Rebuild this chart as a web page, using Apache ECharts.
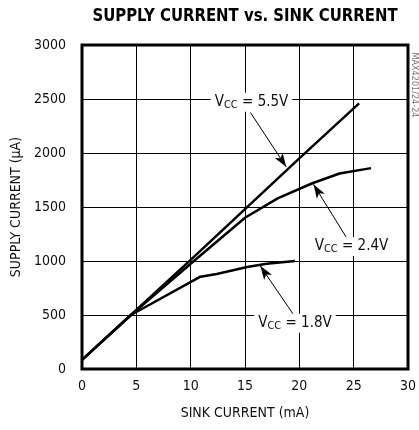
<!DOCTYPE html>
<html lang="en">
<head>
    <meta charset="UTF-8">
    <title>Supply current vs. sink current</title>
    <script src="https://cdn.jsdelivr.net/npm/echarts@6/dist/echarts.min.js"></script>
</head>
<body style="margin:0">

<div id="main" style="width:419px;height:430px;"></div>

<script type="text/javascript">
    // sink current (mA), supply current (uA)
    var vcc55 = [[0, 85], [4.5, 500], [10, 1010], [15, 1480], [20, 1950], [25.5, 2460]];
    var vcc24 = [[0, 85], [4.5, 500], [10, 975], [15, 1400], [18, 1580], [21.2, 1720], [23.7, 1810], [26.6, 1860]];
    var vcc18 = [[0, 85], [4.5, 500], [10.9, 855], [12.4, 880], [15.2, 944], [17, 975], [19.6, 1000]];

    var seriesNames = ['5.5V', '2.4V', '1.8V'];
    // label centres and arrow [from, to] in data units
    var labelAt = [[15.6, 2470], [24.8, 1135], [19.6, 424]];
    var arrows = [
        [[15.5, 2375], [18.8, 1870]],
        [[24.35, 1215], [21.3, 1710]],
        [[19.45, 505], [16.4, 955]]
    ];

    var font = '"Liberation Sans Narrow", "DejaVu Sans Condensed", sans-serif';
    var myChart = echarts.init(document.getElementById('main'));

    function makeSeries(data, i) {
        return {
            name: seriesNames[i],
            type: 'line',
            data: data,
            symbol: 'none',
            silent: true,
            lineStyle: {color: '#000', width: 2.5},
            markLine: {
                silent: true,
                symbol: ['none', 'arrow'],
                symbolSize: [7, 14],
                lineStyle: {color: '#000', width: 1, type: 'solid'},
                label: {show: false},
                data: [[{coord: arrows[i][0]}, {coord: arrows[i][1]}]]
            },
            markPoint: {
                silent: true,
                symbol: 'rect',
                symbolSize: 1,
                itemStyle: {color: 'rgba(0,0,0,0)'},
                label: {
                    show: true,
                    position: 'inside',
                    backgroundColor: '#fff',
                    padding: [1, 4, 1, 4],
                    formatter: '{v|V}{s|CC}{v| = ' + seriesNames[i] + '}',
                    rich: {
                        v: {fontFamily: font, fontSize: 15, color: '#111'},
                        s: {fontFamily: font, fontSize: 11, color: '#111', padding: [6, 0, 0, 0]}
                    }
                },
                data: [{coord: labelAt[i]}]
            }
        };
    }

    var option = {
        animation: false,
        grid: {
            left: 82, right: 11, top: 45, bottom: 61,
            outerBoundsMode: 'none',
            containLabel: false,
            show: true, borderColor: '#000', borderWidth: 3
        },
        xAxis: {
            type: 'value',
            min: 0, max: 30, interval: 5,
            name: 'SINK CURRENT (mA)',
            nameLocation: 'middle',
            nameGap: 37,
            nameTextStyle: {fontFamily: font, fontSize: 14, color: '#111'},
            axisLine: {show: false},
            axisTick: {show: false},
            axisLabel: {fontFamily: font, fontSize: 14, color: '#111', margin: 10},
            splitLine: {lineStyle: {color: '#000', width: 1}}
        },
        yAxis: {
            type: 'value',
            min: 0, max: 3000, interval: 500,
            name: 'SUPPLY CURRENT (\u00b5A)',
            nameLocation: 'middle',
            nameGap: 57,
            nameTextStyle: {fontFamily: font, fontSize: 14, color: '#111'},
            axisLine: {show: false},
            axisTick: {show: false},
            axisLabel: {
                fontFamily: font, fontSize: 14, color: '#111', margin: 16,
                formatter: function (v) { return String(v); }
            },
            splitLine: {lineStyle: {color: '#000', width: 1}}
        },
        graphic: [{
            type: 'text',
            x: 245, y: 16,
            scaleX: 0.92,
            style: {
                text: 'SUPPLY CURRENT vs. SINK CURRENT',
                fontFamily: font, fontSize: 18, fontWeight: 'bold', fill: '#000',
                align: 'center', verticalAlign: 'middle'
            }
        }, {
            type: 'text',
            x: 414, y: 85,
            rotation: -Math.PI / 2,
            style: {
                text: 'MAX4201/24-24',
                fontFamily: font, fontSize: 9, fill: '#777',
                align: 'center', verticalAlign: 'middle'
            }
        }],
        series: [vcc55, vcc24, vcc18].map(makeSeries)
    };

    myChart.setOption(option);
</script>
</body>
</html>
